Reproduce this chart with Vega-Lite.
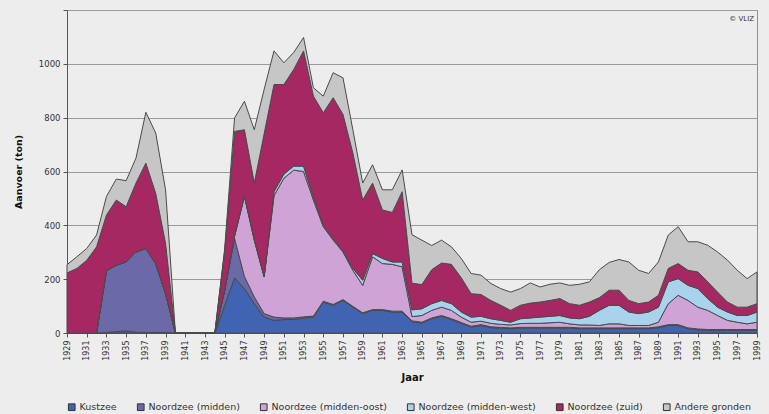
{
  "$schema": "https://vega.github.io/schema/vega-lite/v6.json",
  "width": 690,
  "height": 323,
  "autosize": {"type": "none"},
  "padding": {"left": 67, "top": 10, "right": 12, "bottom": 81},
  "background": "#ededed",
  "title": {"text": "© VLIZ", "anchor": "end", "frame": "group", "orient": "top", "fontSize": 7, "fontWeight": "normal", "font": "DejaVu Sans", "color": "#333333", "baseline": "top", "offset": -12, "dx": -3},
  "config": {
    "view": {"stroke": "#8f8f8f", "strokeWidth": 1},
    "font": "DejaVu Sans",
    "axis": {"labelFont": "DejaVu Sans", "titleFont": "DejaVu Sans", "labelColor": "#333333", "titleColor": "#111111"},
    "axisX": {"labelOverlap": false, "labelSeparation": 0, "labelBound": false}
  },
  "datasets": {
    "rangorde": [
      {"Gebied": "Kustzee", "rang": 1},
      {"Gebied": "Noordzee (midden)", "rang": 2},
      {"Gebied": "Noordzee (midden-oost)", "rang": 3},
      {"Gebied": "Noordzee (midden-west)", "rang": 4},
      {"Gebied": "Noordzee (zuid)", "rang": 5},
      {"Gebied": "Andere gronden", "rang": 6}
    ]
  },
  "data": {
    "values": [
      {"Jaar": 1929, "Kustzee": 0, "Noordzee (midden)": 0, "Noordzee (midden-oost)": 0, "Noordzee (midden-west)": 0, "Noordzee (zuid)": 223, "Andere gronden": 31},
      {"Jaar": 1930, "Kustzee": 0, "Noordzee (midden)": 0, "Noordzee (midden-oost)": 0, "Noordzee (midden-west)": 0, "Noordzee (zuid)": 240, "Andere gronden": 43},
      {"Jaar": 1931, "Kustzee": 0, "Noordzee (midden)": 0, "Noordzee (midden-oost)": 0, "Noordzee (midden-west)": 0, "Noordzee (zuid)": 270, "Andere gronden": 44},
      {"Jaar": 1932, "Kustzee": 0, "Noordzee (midden)": 0, "Noordzee (midden-oost)": 0, "Noordzee (midden-west)": 0, "Noordzee (zuid)": 320, "Andere gronden": 44},
      {"Jaar": 1933, "Kustzee": 2, "Noordzee (midden)": 229, "Noordzee (midden-oost)": 0, "Noordzee (midden-west)": 0, "Noordzee (zuid)": 207, "Andere gronden": 69},
      {"Jaar": 1934, "Kustzee": 5, "Noordzee (midden)": 247, "Noordzee (midden-oost)": 0, "Noordzee (midden-west)": 0, "Noordzee (zuid)": 242, "Andere gronden": 78},
      {"Jaar": 1935, "Kustzee": 8, "Noordzee (midden)": 256, "Noordzee (midden-oost)": 0, "Noordzee (midden-west)": 0, "Noordzee (zuid)": 205, "Andere gronden": 97},
      {"Jaar": 1936, "Kustzee": 3, "Noordzee (midden)": 298, "Noordzee (midden-oost)": 0, "Noordzee (midden-west)": 0, "Noordzee (zuid)": 256, "Andere gronden": 93},
      {"Jaar": 1937, "Kustzee": 2, "Noordzee (midden)": 312, "Noordzee (midden-oost)": 0, "Noordzee (midden-west)": 0, "Noordzee (zuid)": 317, "Andere gronden": 189},
      {"Jaar": 1938, "Kustzee": 2, "Noordzee (midden)": 256, "Noordzee (midden-oost)": 0, "Noordzee (midden-west)": 0, "Noordzee (zuid)": 261, "Andere gronden": 224},
      {"Jaar": 1939, "Kustzee": 2, "Noordzee (midden)": 144, "Noordzee (midden-oost)": 0, "Noordzee (midden-west)": 0, "Noordzee (zuid)": 187, "Andere gronden": 199},
      {"Jaar": 1940, "Kustzee": 0, "Noordzee (midden)": 0, "Noordzee (midden-oost)": 0, "Noordzee (midden-west)": 0, "Noordzee (zuid)": 0, "Andere gronden": 0},
      {"Jaar": 1941, "Kustzee": 0, "Noordzee (midden)": 0, "Noordzee (midden-oost)": 0, "Noordzee (midden-west)": 0, "Noordzee (zuid)": 0, "Andere gronden": 0},
      {"Jaar": 1942, "Kustzee": 0, "Noordzee (midden)": 0, "Noordzee (midden-oost)": 0, "Noordzee (midden-west)": 0, "Noordzee (zuid)": 0, "Andere gronden": 0},
      {"Jaar": 1943, "Kustzee": 0, "Noordzee (midden)": 0, "Noordzee (midden-oost)": 0, "Noordzee (midden-west)": 0, "Noordzee (zuid)": 0, "Andere gronden": 0},
      {"Jaar": 1944, "Kustzee": 0, "Noordzee (midden)": 0, "Noordzee (midden-oost)": 0, "Noordzee (midden-west)": 0, "Noordzee (zuid)": 0, "Andere gronden": 0},
      {"Jaar": 1945, "Kustzee": 103, "Noordzee (midden)": 56, "Noordzee (midden-oost)": 0, "Noordzee (midden-west)": 0, "Noordzee (zuid)": 143, "Andere gronden": 13},
      {"Jaar": 1946, "Kustzee": 205, "Noordzee (midden)": 146, "Noordzee (midden-oost)": 9, "Noordzee (midden-west)": 2, "Noordzee (zuid)": 387, "Andere gronden": 50},
      {"Jaar": 1947, "Kustzee": 165, "Noordzee (midden)": 45, "Noordzee (midden-oost)": 297, "Noordzee (midden-west)": 3, "Noordzee (zuid)": 245, "Andere gronden": 106},
      {"Jaar": 1948, "Kustzee": 109, "Noordzee (midden)": 25, "Noordzee (midden-oost)": 211, "Noordzee (midden-west)": 3, "Noordzee (zuid)": 209, "Andere gronden": 198},
      {"Jaar": 1949, "Kustzee": 59, "Noordzee (midden)": 13, "Noordzee (midden-oost)": 136, "Noordzee (midden-west)": 2, "Noordzee (zuid)": 530, "Andere gronden": 165},
      {"Jaar": 1950, "Kustzee": 47, "Noordzee (midden)": 12, "Noordzee (midden-oost)": 451, "Noordzee (midden-west)": 15, "Noordzee (zuid)": 398, "Andere gronden": 125},
      {"Jaar": 1951, "Kustzee": 50, "Noordzee (midden)": 6, "Noordzee (midden-oost)": 519, "Noordzee (midden-west)": 15, "Noordzee (zuid)": 333, "Andere gronden": 81},
      {"Jaar": 1952, "Kustzee": 50, "Noordzee (midden)": 6, "Noordzee (midden-oost)": 549, "Noordzee (midden-west)": 15, "Noordzee (zuid)": 359, "Andere gronden": 63},
      {"Jaar": 1953, "Kustzee": 55, "Noordzee (midden)": 5, "Noordzee (midden-oost)": 540, "Noordzee (midden-west)": 20, "Noordzee (zuid)": 428, "Andere gronden": 50},
      {"Jaar": 1954, "Kustzee": 59, "Noordzee (midden)": 4, "Noordzee (midden-oost)": 431, "Noordzee (midden-west)": 10, "Noordzee (zuid)": 376, "Andere gronden": 31},
      {"Jaar": 1955, "Kustzee": 115, "Noordzee (midden)": 3, "Noordzee (midden-oost)": 277, "Noordzee (midden-west)": 5, "Noordzee (zuid)": 418, "Andere gronden": 62},
      {"Jaar": 1956, "Kustzee": 103, "Noordzee (midden)": 3, "Noordzee (midden-oost)": 239, "Noordzee (midden-west)": 5, "Noordzee (zuid)": 524, "Andere gronden": 93},
      {"Jaar": 1957, "Kustzee": 121, "Noordzee (midden)": 3, "Noordzee (midden-oost)": 177, "Noordzee (midden-west)": 4, "Noordzee (zuid)": 507, "Andere gronden": 136},
      {"Jaar": 1958, "Kustzee": 96, "Noordzee (midden)": 3, "Noordzee (midden-oost)": 134, "Noordzee (midden-west)": 7, "Noordzee (zuid)": 429, "Andere gronden": 86},
      {"Jaar": 1959, "Kustzee": 72, "Noordzee (midden)": 3, "Noordzee (midden-oost)": 102, "Noordzee (midden-west)": 19, "Noordzee (zuid)": 298, "Andere gronden": 63},
      {"Jaar": 1960, "Kustzee": 84, "Noordzee (midden)": 3, "Noordzee (midden-oost)": 196, "Noordzee (midden-west)": 12, "Noordzee (zuid)": 262, "Andere gronden": 68},
      {"Jaar": 1961, "Kustzee": 84, "Noordzee (midden)": 3, "Noordzee (midden-oost)": 171, "Noordzee (midden-west)": 19, "Noordzee (zuid)": 180, "Andere gronden": 75},
      {"Jaar": 1962, "Kustzee": 78, "Noordzee (midden)": 3, "Noordzee (midden-oost)": 174, "Noordzee (midden-west)": 9, "Noordzee (zuid)": 184, "Andere gronden": 84},
      {"Jaar": 1963, "Kustzee": 78, "Noordzee (midden)": 3, "Noordzee (midden-oost)": 165, "Noordzee (midden-west)": 18, "Noordzee (zuid)": 261, "Andere gronden": 81},
      {"Jaar": 1964, "Kustzee": 42, "Noordzee (midden)": 3, "Noordzee (midden-oost)": 16, "Noordzee (midden-west)": 25, "Noordzee (zuid)": 99, "Andere gronden": 180},
      {"Jaar": 1965, "Kustzee": 37, "Noordzee (midden)": 3, "Noordzee (midden-oost)": 25, "Noordzee (midden-west)": 25, "Noordzee (zuid)": 90, "Andere gronden": 165},
      {"Jaar": 1966, "Kustzee": 53, "Noordzee (midden)": 3, "Noordzee (midden-oost)": 28, "Noordzee (midden-west)": 25, "Noordzee (zuid)": 126, "Andere gronden": 90},
      {"Jaar": 1967, "Kustzee": 62, "Noordzee (midden)": 3, "Noordzee (midden-oost)": 31, "Noordzee (midden-west)": 25, "Noordzee (zuid)": 139, "Andere gronden": 85},
      {"Jaar": 1968, "Kustzee": 50, "Noordzee (midden)": 3, "Noordzee (midden-oost)": 31, "Noordzee (midden-west)": 25, "Noordzee (zuid)": 146, "Andere gronden": 65},
      {"Jaar": 1969, "Kustzee": 36, "Noordzee (midden)": 3, "Noordzee (midden-oost)": 20, "Noordzee (midden-west)": 19, "Noordzee (zuid)": 127, "Andere gronden": 72},
      {"Jaar": 1970, "Kustzee": 22, "Noordzee (midden)": 3, "Noordzee (midden-oost)": 15, "Noordzee (midden-west)": 19, "Noordzee (zuid)": 87, "Andere gronden": 75},
      {"Jaar": 1971, "Kustzee": 28, "Noordzee (midden)": 3, "Noordzee (midden-oost)": 13, "Noordzee (midden-west)": 18, "Noordzee (zuid)": 81, "Andere gronden": 72},
      {"Jaar": 1972, "Kustzee": 20, "Noordzee (midden)": 3, "Noordzee (midden-oost)": 13, "Noordzee (midden-west)": 17, "Noordzee (zuid)": 68, "Andere gronden": 63},
      {"Jaar": 1973, "Kustzee": 18, "Noordzee (midden)": 3, "Noordzee (midden-oost)": 11, "Noordzee (midden-west)": 15, "Noordzee (zuid)": 56, "Andere gronden": 62},
      {"Jaar": 1974, "Kustzee": 16, "Noordzee (midden)": 3, "Noordzee (midden-oost)": 11, "Noordzee (midden-west)": 10, "Noordzee (zuid)": 44, "Andere gronden": 68},
      {"Jaar": 1975, "Kustzee": 18, "Noordzee (midden)": 3, "Noordzee (midden-oost)": 14, "Noordzee (midden-west)": 18, "Noordzee (zuid)": 50, "Andere gronden": 62},
      {"Jaar": 1976, "Kustzee": 18, "Noordzee (midden)": 3, "Noordzee (midden-oost)": 15, "Noordzee (midden-west)": 20, "Noordzee (zuid)": 55, "Andere gronden": 75},
      {"Jaar": 1977, "Kustzee": 18, "Noordzee (midden)": 3, "Noordzee (midden-oost)": 15, "Noordzee (midden-west)": 23, "Noordzee (zuid)": 56, "Andere gronden": 56},
      {"Jaar": 1978, "Kustzee": 18, "Noordzee (midden)": 3, "Noordzee (midden-oost)": 17, "Noordzee (midden-west)": 24, "Noordzee (zuid)": 59, "Andere gronden": 60},
      {"Jaar": 1979, "Kustzee": 18, "Noordzee (midden)": 3, "Noordzee (midden-oost)": 19, "Noordzee (midden-west)": 25, "Noordzee (zuid)": 63, "Andere gronden": 58},
      {"Jaar": 1980, "Kustzee": 18, "Noordzee (midden)": 3, "Noordzee (midden-oost)": 13, "Noordzee (midden-west)": 22, "Noordzee (zuid)": 53, "Andere gronden": 68},
      {"Jaar": 1981, "Kustzee": 16, "Noordzee (midden)": 3, "Noordzee (midden-oost)": 11, "Noordzee (midden-west)": 23, "Noordzee (zuid)": 50, "Andere gronden": 78},
      {"Jaar": 1982, "Kustzee": 16, "Noordzee (midden)": 3, "Noordzee (midden-oost)": 11, "Noordzee (midden-west)": 32, "Noordzee (zuid)": 53, "Andere gronden": 75},
      {"Jaar": 1983, "Kustzee": 16, "Noordzee (midden)": 3, "Noordzee (midden-oost)": 9, "Noordzee (midden-west)": 56, "Noordzee (zuid)": 47, "Andere gronden": 104},
      {"Jaar": 1984, "Kustzee": 16, "Noordzee (midden)": 3, "Noordzee (midden-oost)": 15, "Noordzee (midden-west)": 69, "Noordzee (zuid)": 56, "Andere gronden": 103},
      {"Jaar": 1985, "Kustzee": 16, "Noordzee (midden)": 3, "Noordzee (midden-oost)": 15, "Noordzee (midden-west)": 69, "Noordzee (zuid)": 56, "Andere gronden": 114},
      {"Jaar": 1986, "Kustzee": 16, "Noordzee (midden)": 3, "Noordzee (midden-oost)": 9, "Noordzee (midden-west)": 50, "Noordzee (zuid)": 43, "Andere gronden": 143},
      {"Jaar": 1987, "Kustzee": 16, "Noordzee (midden)": 3, "Noordzee (midden-oost)": 9, "Noordzee (midden-west)": 44, "Noordzee (zuid)": 37, "Andere gronden": 124},
      {"Jaar": 1988, "Kustzee": 16, "Noordzee (midden)": 3, "Noordzee (midden-oost)": 9, "Noordzee (midden-west)": 50, "Noordzee (zuid)": 37, "Andere gronden": 106},
      {"Jaar": 1989, "Kustzee": 20, "Noordzee (midden)": 3, "Noordzee (midden-oost)": 17, "Noordzee (midden-west)": 56, "Noordzee (zuid)": 44, "Andere gronden": 124},
      {"Jaar": 1990, "Kustzee": 28, "Noordzee (midden)": 3, "Noordzee (midden-oost)": 78, "Noordzee (midden-west)": 81, "Noordzee (zuid)": 50, "Andere gronden": 124},
      {"Jaar": 1991, "Kustzee": 28, "Noordzee (midden)": 3, "Noordzee (midden-oost)": 109, "Noordzee (midden-west)": 62, "Noordzee (zuid)": 56, "Andere gronden": 137},
      {"Jaar": 1992, "Kustzee": 16, "Noordzee (midden)": 3, "Noordzee (midden-oost)": 102, "Noordzee (midden-west)": 56, "Noordzee (zuid)": 56, "Andere gronden": 106},
      {"Jaar": 1993, "Kustzee": 12, "Noordzee (midden)": 3, "Noordzee (midden-oost)": 81, "Noordzee (midden-west)": 69, "Noordzee (zuid)": 62, "Andere gronden": 112},
      {"Jaar": 1994, "Kustzee": 10, "Noordzee (midden)": 3, "Noordzee (midden-oost)": 71, "Noordzee (midden-west)": 44, "Noordzee (zuid)": 62, "Andere gronden": 136},
      {"Jaar": 1995, "Kustzee": 10, "Noordzee (midden)": 3, "Noordzee (midden-oost)": 52, "Noordzee (midden-west)": 31, "Noordzee (zuid)": 56, "Andere gronden": 149},
      {"Jaar": 1996, "Kustzee": 10, "Noordzee (midden)": 3, "Noordzee (midden-oost)": 34, "Noordzee (midden-west)": 31, "Noordzee (zuid)": 37, "Andere gronden": 156},
      {"Jaar": 1997, "Kustzee": 10, "Noordzee (midden)": 3, "Noordzee (midden-oost)": 27, "Noordzee (midden-west)": 25, "Noordzee (zuid)": 31, "Andere gronden": 137},
      {"Jaar": 1998, "Kustzee": 10, "Noordzee (midden)": 3, "Noordzee (midden-oost)": 21, "Noordzee (midden-west)": 31, "Noordzee (zuid)": 31, "Andere gronden": 106},
      {"Jaar": 1999, "Kustzee": 10, "Noordzee (midden)": 3, "Noordzee (midden-oost)": 27, "Noordzee (midden-west)": 38, "Noordzee (zuid)": 31, "Andere gronden": 118}
    ]
  },
  "transform": [
    {"fold": ["Kustzee", "Noordzee (midden)", "Noordzee (midden-oost)", "Noordzee (midden-west)", "Noordzee (zuid)", "Andere gronden"], "as": ["Gebied", "Aanvoer"]},
    {"lookup": "Gebied", "from": {"data": {"name": "rangorde"}, "key": "Gebied", "fields": ["rang"]}}
  ],
  "mark": {"type": "area", "stroke": "#4a4a4a", "strokeWidth": 1, "opacity": 1},
  "encoding": {
    "x": {
      "field": "Jaar", "type": "quantitative",
      "scale": {"domain": [1929, 1999], "nice": false, "zero": false},
      "axis": {
        "title": "Jaar", "titleFontSize": 10, "titleFontWeight": "bold", "titlePadding": 12,
        "values": [1929,1931,1933,1935,1937,1939,1941,1943,1945,1947,1949,1951,1953,1955,1957,1959,1961,1963,1965,1967,1969,1971,1973,1975,1977,1979,1981,1983,1985,1987,1989,1991,1993,1995,1997,1999],
        "format": "d", "labelAngle": -90, "labelFontSize": 8, "labelPadding": 3,
        "grid": false, "tickSize": 4, "tickColor": "#555555", "domainColor": "#555555",
        "labelOverlap": false, "labelSeparation": 0, "labelBound": false, "labelFlush": false
      }
    },
    "y": {
      "field": "Aanvoer", "type": "quantitative", "stack": "zero",
      "scale": {"domain": [0, 1200], "nice": false},
      "axis": {
        "title": "Aanvoer (ton)", "titleFontSize": 9.5, "titleFontWeight": "bold", "titlePadding": 15,
        "values": [0, 200, 400, 600, 800, 1000, 1200],
        "labelExpr": "datum.value == 1200 ? '' : datum.label",
        "format": "d", "labelFontSize": 8.5, "labelPadding": 3,
        "grid": true, "gridColor": "#9a9a9a", "gridWidth": 1,
        "tickSize": 4, "tickColor": "#555555", "domainColor": "#555555"
      }
    },
    "order": {"field": "rang", "type": "quantitative", "sort": "ascending"},
    "color": {
      "field": "Gebied", "type": "nominal",
      "sort": ["Kustzee", "Noordzee (midden)", "Noordzee (midden-oost)", "Noordzee (midden-west)", "Noordzee (zuid)", "Andere gronden"],
      "scale": {
        "domain": ["Kustzee", "Noordzee (midden)", "Noordzee (midden-oost)", "Noordzee (midden-west)", "Noordzee (zuid)", "Andere gronden"],
        "range": ["#4064b2", "#6b69a8", "#cfa3d6", "#a9d3ec", "#a52862", "#c6c6c6"]
      },
      "legend": {
        "title": null, "orient": "none", "legendX": 0, "legendY": 392, "direction": "horizontal", "columns": 6,
        "symbolType": "square", "symbolSize": 45, "symbolStrokeColor": "#333333", "symbolStrokeWidth": 1,
        "labelFontSize": 9.5, "labelFont": "DejaVu Sans", "labelColor": "#333333", "columnPadding": 18, "labelOffset": 3,
        "labelLimit": 0
      }
    }
  }
}
